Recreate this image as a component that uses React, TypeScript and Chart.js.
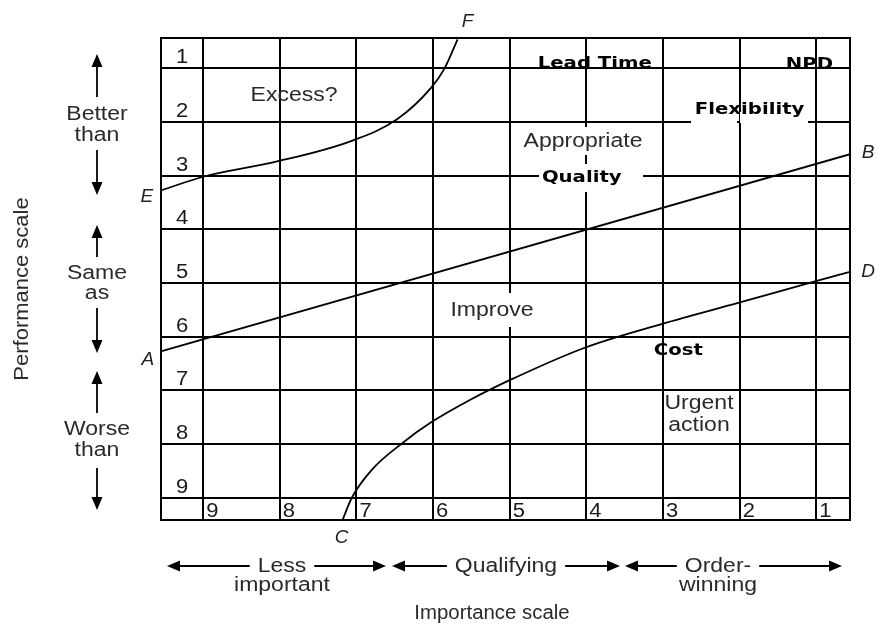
import React, { useEffect, useRef } from "react";
import { Chart, registerables } from "chart.js";

Chart.register(...registerables);

// ---- Axis ticks -------------------------------------------------------
// Importance scale (x): 9 = less important ... 1 = order-winning
const importanceTicks = [9, 8, 7, 6, 5, 4, 3, 2, 1];
const importanceTickLabels = ["9", "8", "7", "6", "5", "4", "3", "2", "1"];
// Performance scale (y): 1 = better than ... 9 = worse than
const performanceTicks = [1, 2, 3, 4, 5, 6, 7, 8, 9];
const performanceTickLabels = ["1", "2", "3", "4", "5", "6", "7", "8", "9"];

// ---- Boundary curves (importance, performance) ------------------------
const lineAB_x = [9.54, 0.56];
const lineAB_y = [6.27, 2.6];

const lineCD_x = [7.18, 7.06, 6.8, 6.39, 6.04, 5.52, 5.0, 4.03, 3.01, 2.02, 1.04, 0.56];
const lineCD_y = [9.41, 9.0, 8.48, 7.97, 7.61, 7.18, 6.81, 6.21, 5.76, 5.37, 4.98, 4.79];

const lineEF_x = [9.54, 9.0, 8.05, 7.06, 6.47, 6.03, 5.85, 5.68];
const lineEF_y = [3.27, 3.02, 2.74, 2.35, 1.95, 1.37, 1.0, 0.46];

// ---- Performance objectives placed on the matrix ----------------------
const objectives = ["Lead Time", "NPD", "Flexibility", "Quality", "Cost"];
const objImportance = [3.89, 1.09, 1.87, 4.06, 2.8];
const objPerformance = [0.88, 0.9, 1.74, 3.01, 6.23];

// ---- Styling / annotation config --------------------------------------
const REG = '20px "Liberation Sans", Arial, sans-serif';
const ITAL = 'italic 19px "Liberation Sans", Arial, sans-serif';
const BOLD = 'bold 16px "DejaVu Sans", Verdana, sans-serif';
const TXT = "#2a2a2a";
const SX = 1.15;
const BSX = 1.23;
const LINE = "#000";

const regionLabels = [
  { text: "Excess?", x: 294, y: 101 },
  { text: "Appropriate", x: 583, y: 147 },
  { text: "Improve", x: 492, y: 316 },
  { text: "Urgent", x: 699, y: 409 },
  { text: "action", x: 699, y: 431 },
];

const whiteBoxes = [
  [518, 127, 130, 28],
  [539, 164, 104, 28],
  [446, 293, 93, 34],
  [691, 112, 46, 11],
  [740, 112, 68, 11],
];

const sideGroups = [
  { lines: ["Better", "than"], base: [120, 141], upTip: 54, upTail: 97, dnTail: 150, dnTip: 195 },
  { lines: ["Same", "as"], base: [279, 299], upTip: 225, upTail: 257, dnTail: 308, dnTip: 353 },
  { lines: ["Worse", "than"], base: [435, 456], upTip: 371, upTail: 413, dnTail: 468, dnTip: 510 },
];

const bottomGroups = [
  { lines: ["Less", "important"], cx: 282, leftTip: 167, rightTip: 386 },
  { lines: ["Qualifying"], cx: 506, leftTip: 392, rightTip: 620 },
  { lines: ["Order-", "winning"], cx: 718, leftTip: 625, rightTip: 842 },
];

const pts = (xs: number[], ys: number[]) => xs.map((x, i) => ({ x, y: ys[i] }));

function txt(
  ctx: CanvasRenderingContext2D,
  s: string,
  x: number,
  y: number,
  font: string,
  color: string,
  align: CanvasTextAlign = "center",
  sx = 1
) {
  ctx.save();
  ctx.font = font;
  ctx.fillStyle = color;
  ctx.textAlign = align;
  ctx.textBaseline = "alphabetic";
  ctx.translate(x, y);
  ctx.scale(sx, 1);
  ctx.fillText(s, 0, 0);
  ctx.restore();
}

function textW(ctx: CanvasRenderingContext2D, s: string, font: string, sx: number) {
  ctx.save();
  ctx.font = font;
  const w = ctx.measureText(s).width * sx;
  ctx.restore();
  return w;
}

function arrow(ctx: CanvasRenderingContext2D, x1: number, y1: number, x2: number, y2: number) {
  const a = Math.atan2(y2 - y1, x2 - x1);
  const hl = 13;
  const hw = 5.5;
  const bx = x2 - hl * Math.cos(a);
  const by = y2 - hl * Math.sin(a);
  ctx.beginPath();
  ctx.moveTo(x1, y1);
  ctx.lineTo(bx, by);
  ctx.stroke();
  ctx.beginPath();
  ctx.moveTo(x2, y2);
  ctx.lineTo(bx + hw * Math.sin(a), by - hw * Math.cos(a));
  ctx.lineTo(bx - hw * Math.sin(a), by + hw * Math.cos(a));
  ctx.closePath();
  ctx.fill();
}

const matrixPlugin = {
  id: "matrixDecor",
  beforeDatasetsDraw(chart: any) {
    const ctx: CanvasRenderingContext2D = chart.ctx;
    const ca = chart.chartArea;
    ctx.save();
    ctx.fillStyle = "#fff";
    whiteBoxes.forEach(([x, y, w, h]) => ctx.fillRect(x, y, w, h));
    ctx.strokeStyle = LINE;
    ctx.lineWidth = 2;
    ctx.strokeRect(ca.left, ca.top, ca.right - ca.left, ca.bottom - ca.top);
    ctx.restore();
  },
  afterDraw(chart: any) {
    const ctx: CanvasRenderingContext2D = chart.ctx;
    const xs = chart.scales.x;
    const ys = chart.scales.y;
    const ca = chart.chartArea;

    // tick labels inside the grid
    performanceTicks.forEach((v, i) => {
      txt(ctx, performanceTickLabels[i], 182, ys.getPixelForValue(v) - 5, REG, "#1a1a1a", "center", 1.1);
    });
    importanceTicks.forEach((v, i) => {
      txt(ctx, importanceTickLabels[i], xs.getPixelForValue(v) + 3, ca.bottom - 3, REG, "#1a1a1a", "left", 1.1);
    });

    // region labels
    regionLabels.forEach((r) => txt(ctx, r.text, r.x, r.y, REG, TXT, "center", SX));

    // objectives
    objectives.forEach((o, i) => {
      const px = xs.getPixelForValue(objImportance[i]);
      const py = ys.getPixelForValue(objPerformance[i]);
      txt(ctx, o, px, py + 5.8, BOLD, "#000", "center", BSX);
    });

    // curve end letters
    const P = (x: number, y: number) => [xs.getPixelForValue(x), ys.getPixelForValue(y)];
    const letters: [string, number[], number, number][] = [
      ["A", P(lineAB_x[0], lineAB_y[0]), -14, 7],
      ["B", P(lineAB_x[1], lineAB_y[1]), 18, -3],
      ["C", P(lineCD_x[0], lineCD_y[0]), -1, 16],
      ["D", P(lineCD_x[lineCD_x.length - 1], lineCD_y[lineCD_y.length - 1]), 18, -2],
      ["E", P(lineEF_x[0], lineEF_y[0]), -15, 5],
      ["F", P(lineEF_x[lineEF_x.length - 1], lineEF_y[lineEF_y.length - 1]), 10, -19],
    ];
    letters.forEach(([s, p, dx, dy]) => txt(ctx, s, p[0] + dx, p[1] + dy + 7, ITAL, "#222", "center", 1));

    // left side: performance bands
    ctx.save();
    ctx.strokeStyle = "#000";
    ctx.fillStyle = "#000";
    ctx.lineWidth = 1.8;
    const ax = 97;
    sideGroups.forEach((g) => {
      arrow(ctx, ax, g.upTail, ax, g.upTip);
      arrow(ctx, ax, g.dnTail, ax, g.dnTip);
    });
    ctx.restore();
    sideGroups.forEach((g) => {
      g.lines.forEach((l, i) => txt(ctx, l, ax, g.base[i], REG, TXT, "center", SX));
    });

    ctx.save();
    ctx.translate(28, 289);
    ctx.rotate(-Math.PI / 2);
    txt(ctx, "Performance scale", 0, 0, REG, TXT, "center", 1.1);
    ctx.restore();

    // bottom: importance bands
    const ay = 566;
    ctx.save();
    ctx.strokeStyle = "#000";
    ctx.fillStyle = "#000";
    ctx.lineWidth = 1.8;
    bottomGroups.forEach((g) => {
      const w = textW(ctx, g.lines[0], REG, SX);
      arrow(ctx, g.cx - w / 2 - 8, ay, g.leftTip, ay);
      arrow(ctx, g.cx + w / 2 + 8, ay, g.rightTip, ay);
    });
    ctx.restore();
    bottomGroups.forEach((g) => {
      g.lines.forEach((l, i) => txt(ctx, l, g.cx, 572 + i * 19, REG, TXT, "center", SX));
    });
    txt(ctx, "Importance scale", 492, 619, REG, TXT, "center", 1.02);
  },
};

const curveStyle = {
  showLine: true,
  pointRadius: 0,
  borderColor: "#000",
  borderWidth: 1.8,
  cubicInterpolationMode: "monotone" as const,
  fill: false,
};

export default function App() {
  const ref = useRef<HTMLCanvasElement>(null);
  useEffect(() => {
    document.body.style.margin = "0";
    const canvas = ref.current!;
    const chart = new Chart(canvas, {
      type: "scatter",
      data: {
        datasets: [
          { label: "A-B", data: pts(lineAB_x, lineAB_y), ...curveStyle },
          { label: "C-D", data: pts(lineCD_x, lineCD_y), ...curveStyle },
          { label: "E-F", data: pts(lineEF_x, lineEF_y), ...curveStyle },
        ],
      },
      options: {
        responsive: false,
        animation: false,
        devicePixelRatio: 1,
        layout: { padding: { left: 161, top: 38, right: 27, bottom: 108 } },
        plugins: { legend: { display: false }, tooltip: { enabled: false } },
        scales: {
          x: {
            type: "linear",
            reverse: true,
            min: 0.56,
            max: 9.55,
            afterBuildTicks: (axis: any) => {
              axis.ticks = importanceTicks.map((v) => ({ value: v }));
            },
            ticks: { display: false },
            grid: { color: LINE, lineWidth: 2, drawTicks: false },
            border: { display: false },
          },
          y: {
            type: "linear",
            reverse: true,
            min: 0.435,
            max: 9.415,
            afterBuildTicks: (axis: any) => {
              axis.ticks = performanceTicks.map((v) => ({ value: v }));
            },
            ticks: { display: false },
            grid: { color: LINE, lineWidth: 2, drawTicks: false },
            border: { display: false },
          },
        },
      } as any,
      plugins: [matrixPlugin],
    });
    return () => chart.destroy();
  }, []);
  return <canvas ref={ref} width={877} height={628} style={{ display: "block" }} />;
}
